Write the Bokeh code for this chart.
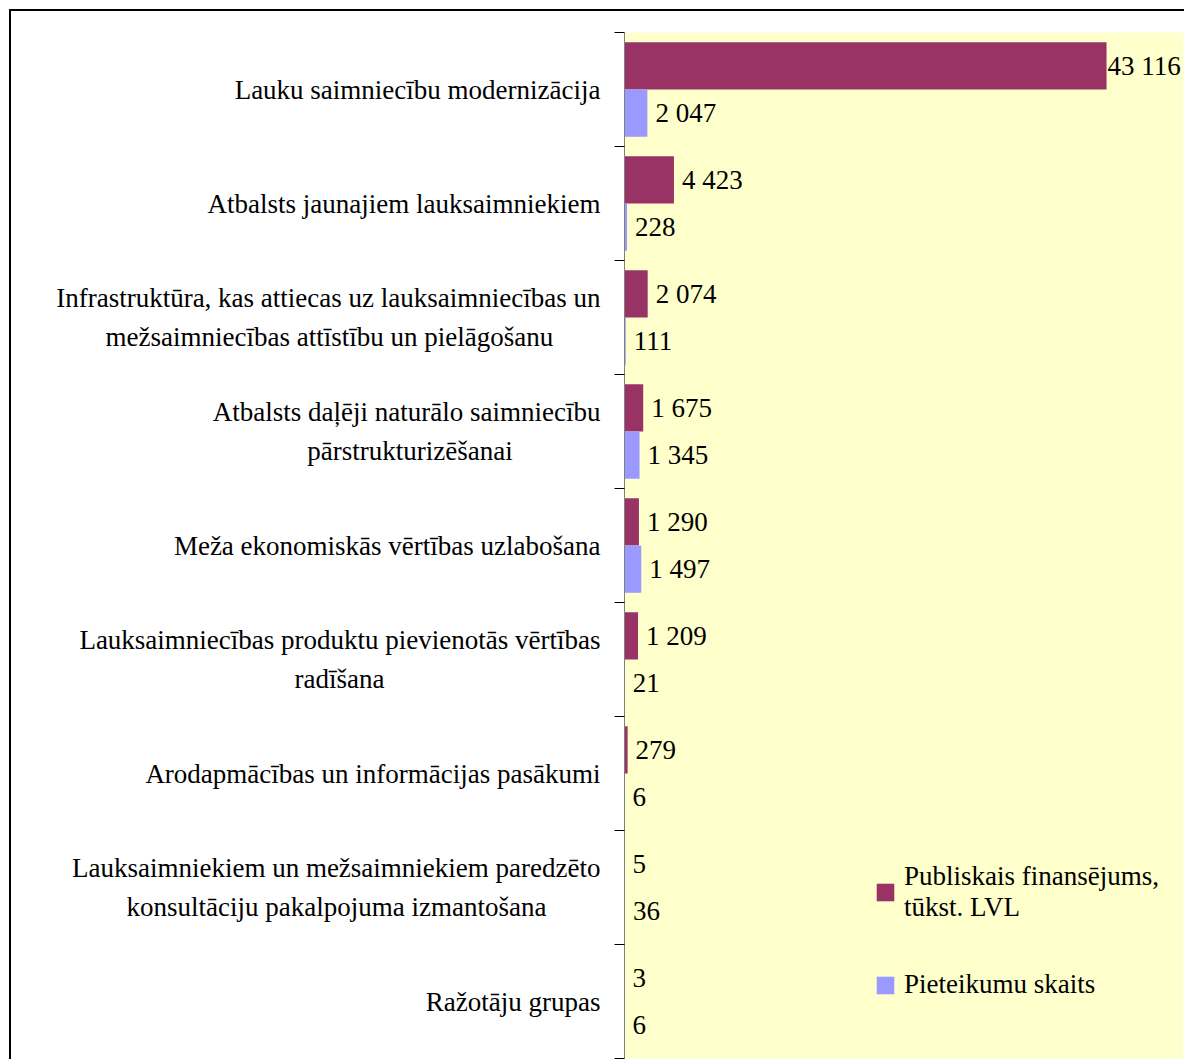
import glob
import struct

from bokeh.plotting import figure
from bokeh.models import (Range1d, ColumnDataSource, LinearAxis, FixedTicker, LabelSet,
                          Legend, LegendItem, CustomLabelingPolicy)
from bokeh.transform import dodge
from bokeh.embed import file_html
from bokeh.resources import INLINE

# ---- data (top to bottom) ----
categories = [
    "Lauku saimniecību modernizācija",
    "Atbalsts jaunajiem lauksaimniekiem",
    "Infrastruktūra, kas attiecas uz lauksaimniecības un\nmežsaimniecības attīstību un pielāgošanu",
    "Atbalsts daļēji naturālo saimniecību\npārstrukturizēšanai",
    "Meža ekonomiskās vērtības uzlabošana",
    "Lauksaimniecības produktu pievienotās vērtības\nradīšana",
    "Arodapmācības un informācijas pasākumi",
    "Lauksaimniekiem un mežsaimniekiem paredzēto\nkonsultāciju pakalpojuma izmantošana",
    "Ražotāju grupas",
]
public_funding = [43116, 4423, 2074, 1675, 1290, 1209, 279, 5, 3]
applications = [2047, 228, 111, 1345, 1497, 21, 6, 36, 6]
series_names = ["Publiskais finansējums,\ntūkst. LVL", "Pieteikumu skaits"]
x_max = 50000

colors = ["#993366", "#9999FF"]
FONT = "Liberation Serif"
FS_PX = 27
FS = f"{FS_PX}px"

n = len(categories)
centers = [n - i - 0.5 for i in range(n)]   # category slot centres, first at top


# ---- text width measurement (to centre the lines of right-aligned label blocks) ----
def make_measurer():
    paths = []
    for root in ("/usr/share/fonts", "/usr/local/share/fonts", "/usr/share/fonts/truetype"):
        paths += glob.glob(root + "/**/LiberationSerif-Regular.ttf", recursive=True)
    fallback = (lambda s: 0.45 * FS_PX * len(s)), 0.25 * FS_PX
    if not paths:
        return fallback
    try:
        data = open(paths[0], "rb").read()
        num_tables = struct.unpack(">H", data[4:6])[0]
        tables = {}
        for i in range(num_tables):
            tag, _cs, off, _ln = struct.unpack(">4sIII", data[12 + 16 * i:28 + 16 * i])
            tables[tag.decode("latin-1")] = off
        head = tables["head"]
        upem = struct.unpack(">H", data[head + 18:head + 20])[0]
        hhea = tables["hhea"]
        num_hm = struct.unpack(">H", data[hhea + 34:hhea + 36])[0]
        hmtx = tables["hmtx"]
        adv = [struct.unpack(">H", data[hmtx + 4 * i:hmtx + 4 * i + 2])[0] for i in range(num_hm)]
        cmap = tables["cmap"]
        nsub = struct.unpack(">H", data[cmap + 2:cmap + 4])[0]
        sub = None
        for i in range(nsub):
            pid, eid, off = struct.unpack(">HHI", data[cmap + 4 + 8 * i:cmap + 12 + 8 * i])
            if pid == 3 and eid == 1:
                sub = cmap + off
        if sub is None or struct.unpack(">H", data[sub:sub + 2])[0] != 4:
            return fallback
        seg2 = struct.unpack(">H", data[sub + 6:sub + 8])[0]
        seg = seg2 // 2
        ends = struct.unpack(f">{seg}H", data[sub + 14:sub + 14 + seg2])
        so = sub + 16 + seg2
        starts = struct.unpack(f">{seg}H", data[so:so + seg2])
        do = so + seg2
        deltas = struct.unpack(f">{seg}h", data[do:do + seg2])
        ro = do + seg2
        ros = struct.unpack(f">{seg}H", data[ro:ro + seg2])
    except Exception:
        return fallback

    def gid(ch):
        c = ord(ch)
        for i in range(seg):
            if c <= ends[i]:
                if c < starts[i]:
                    return 0
                if ros[i] == 0:
                    return (c + deltas[i]) & 0xFFFF
                addr = ro + 2 * i + ros[i] + 2 * (c - starts[i])
                g = struct.unpack(">H", data[addr:addr + 2])[0]
                return (g + deltas[i]) & 0xFFFF if g else 0
        return 0

    def width(s):
        return sum(adv[min(gid(ch), num_hm - 1)] for ch in s) * FS_PX / upem
    return width, width("\u00a0")


measure, nbsp_w = make_measurer()


def centred_block(text):
    """Right-aligned tick label whose lines are centred (pad short lines on the right)."""
    lines = text.split("\n")
    if len(lines) == 1:
        return text
    widths = [measure(l) for l in lines]
    wmax = max(widths)
    out = []
    for l, w in zip(lines, widths):
        k = int(round((wmax - w) / 2 / nbsp_w)) if nbsp_w > 0 else 0
        out.append(l + "\u00a0" * k)
    return "\n".join(out)


def fmt(v):
    return f"{v:,}".replace(",", " ")


def offsets(vals):
    # labels that would run past the plot edge are pulled in (as in the original)
    return [1 if v > 0.85 * x_max else 8 for v in vals]


src = ColumnDataSource(dict(
    pos=centers,
    pub=public_funding,
    app=applications,
    pub_lbl=[fmt(v) for v in public_funding],
    app_lbl=[fmt(v) for v in applications],
    pub_off=offsets(public_funding),
    app_off=offsets(applications),
))

p = figure(width=1184, height=1059,
           y_range=Range1d(0, n), x_range=Range1d(0, x_max),
           output_backend="svg", toolbar_location=None,
           x_axis_location=None, y_axis_location=None,
           min_border_left=624, min_border_right=1, min_border_top=32, min_border_bottom=1)
p.background_fill_color = "#FFFFCC"
p.border_fill_color = None
p.outline_line_color = None
p.grid.visible = False
# chart border (left and top edges visible in the original crop)
p.styles = {
    "background-color": "white",
    "background-image": "linear-gradient(#000, #000), linear-gradient(#000, #000)",
    "background-size": "2px 100%, 100% 2px",
    "background-position": "9px 9px, 9px 9px",
    "background-repeat": "no-repeat",
}

bar_h = 0.414
shift = bar_h / 2
r_pub = p.hbar(y=dodge("pos", shift), left=0, right="pub", height=bar_h,
               fill_color=colors[0], line_color=None, source=src)
r_app = p.hbar(y=dodge("pos", -shift), left=0, right="app", height=bar_h,
               fill_color=colors[1], line_color=None, source=src)

# tick marks between categories (Excel style), no labels
hide_all = CustomLabelingPolicy(code="""
const all = [...indices]
for (const i of all) indices.unset(i)
return indices
""")
tick_axis = LinearAxis(ticker=FixedTicker(ticks=list(range(n + 1))),
                       major_label_policy=hide_all,
                       major_label_text_font_size="1px", major_label_standoff=0,
                       minor_tick_line_color=None, major_tick_in=0, major_tick_out=10,
                       major_tick_line_color="black", axis_line_color="#808080")
p.add_layout(tick_axis, "left")

# category labels at slot centres
cat_axis = LinearAxis(ticker=FixedTicker(ticks=centers),
                      major_label_overrides={c: centred_block(name)
                                             for c, name in zip(centers, categories)},
                      major_tick_line_color=None, minor_tick_line_color=None,
                      axis_line_color=None, major_tick_in=0, major_tick_out=0,
                      major_label_standoff=10,
                      major_label_text_font=FONT, major_label_text_font_size=FS,
                      major_label_text_color="black",
                      major_label_text_line_height=1.27)
p.add_layout(cat_axis, "left")

lbl_common = dict(text_font=FONT, text_font_size=FS, text_color="black",
                  text_baseline="middle", text_align="left", source=src)
p.add_layout(LabelSet(x="pub", y=dodge("pos", shift), text="pub_lbl",
                      x_offset="pub_off", **lbl_common))
p.add_layout(LabelSet(x="app", y=dodge("pos", -shift), text="app_lbl",
                      x_offset="app_off", **lbl_common))

legend = Legend(items=[LegendItem(label=series_names[0], renderers=[r_pub]),
                       LegendItem(label=series_names[1], renderers=[r_app])],
                location=(250, 58), glyph_width=22, glyph_height=22, label_standoff=8,
                label_text_font=FONT, label_text_font_size=FS, label_text_color="black",
                label_text_line_height=1.45, spacing=46,
                background_fill_alpha=0, border_line_color=None, padding=0, margin=0)
p.add_layout(legend)

open("out.html", "w").write(file_html(p, INLINE))
